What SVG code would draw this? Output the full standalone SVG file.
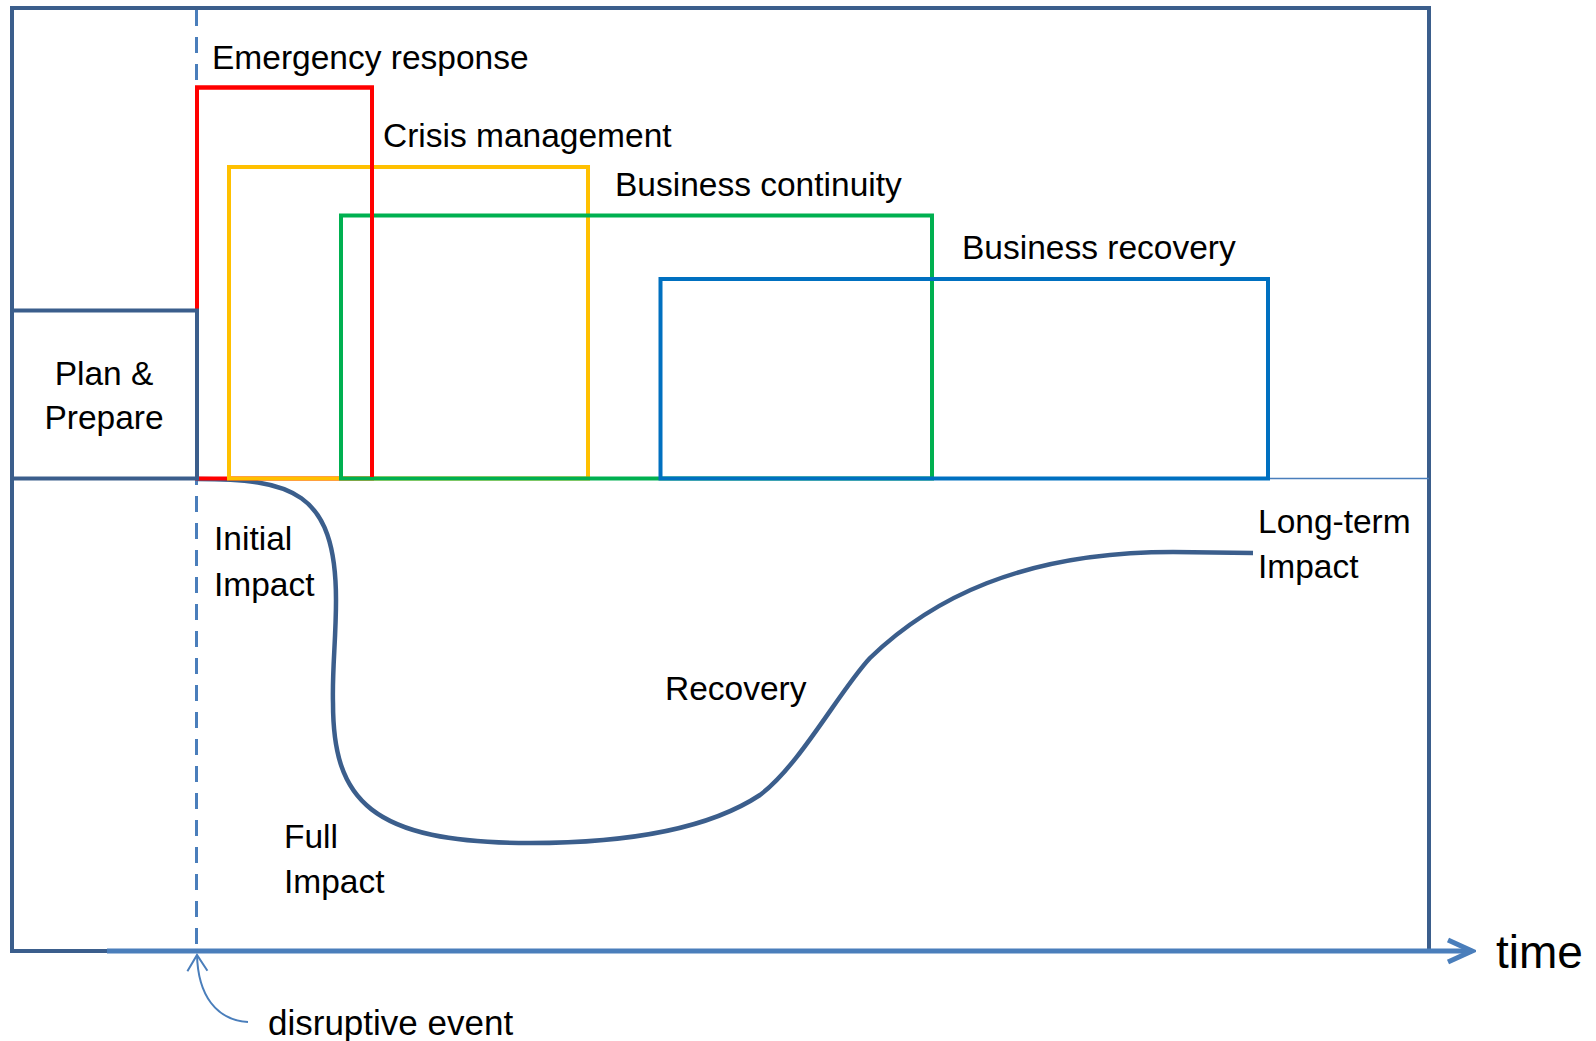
<svg xmlns="http://www.w3.org/2000/svg" width="1596" height="1041" viewBox="0 0 1596 1041">
  <defs>
    <style>
      text { font-family: "Liberation Sans", Arial, sans-serif; font-size: 33.5px; fill: #000; }
      .frame { fill: none; stroke: #3B5E8C; stroke-width: 4; }
      .box { fill: none; stroke-width: 4; stroke-linejoin: miter; }
      .red { stroke: #FF0000; }
      .yellow { stroke: #FFC000; }
      .green { stroke: #00B050; }
      .blue { stroke: #0070C0; }
      .axis { fill: none; stroke: #4A7EBB; stroke-width: 5; }
      .dash { fill: none; stroke: #4A7EBB; stroke-width: 3; stroke-dasharray: 16 11; }
      .curve { fill: none; stroke: #3B5E8C; stroke-width: 4.5; stroke-linecap: butt; }
      .thin { fill: none; stroke: #4A7EBB; stroke-width: 1.5; }
      .pointer { fill: none; stroke: #4A7EBB; stroke-width: 2; }
    </style>
    <marker id="chev" viewBox="0 0 30 30" refX="26" refY="15" markerWidth="30" markerHeight="30" markerUnits="userSpaceOnUse" orient="auto">
      <polyline points="2,4 26,15 2,26" fill="none" stroke="#4A7EBB" stroke-width="5"/>
    </marker>
    <marker id="chevSmall" viewBox="0 0 24 24" refX="20" refY="12" markerWidth="24" markerHeight="24" markerUnits="userSpaceOnUse" orient="auto">
      <polyline points="4,2 20,12 4,22" fill="none" stroke="#4A7EBB" stroke-width="2"/>
    </marker>
  </defs>
  <rect width="1596" height="1041" fill="#ffffff"/>

  <g id="frame">
    <rect class="frame" x="12" y="8" width="1417" height="943"/>
  </g>

  <g id="connectors">
    <line class="thin" x1="1268" y1="478.5" x2="1429" y2="478.5"/>
    <line class="dash" x1="196.5" y1="10" x2="196.5" y2="949"/>
    <path class="curve" d="M197 479 C290 479, 336 490, 336 600 C336 640, 332 670, 333 703 C333 800, 370 843, 530 843 C630 843, 710 828, 760 795 C800 765, 840 690, 870 658 C930 600, 1020 552, 1173 552 L1253 553"/>
    <line class="axis" x1="107" y1="951" x2="1472" y2="951" marker-end="url(#chev)"/>
    <path class="pointer" d="M248 1022 C216 1020, 198 995, 197 955" marker-end="url(#chevSmall)"/>
  </g>

  <g id="emergency-response">
    <rect class="box red" x="197" y="87.5" width="175" height="391"/>
    <text x="212" y="69">Emergency response</text>
  </g>

  <g id="crisis-management">
    <rect class="box yellow" x="229" y="167" width="359" height="311.5"/>
    <text x="383" y="146.5">Crisis management</text>
  </g>

  <g id="business-continuity">
    <rect class="box green" x="341" y="215.5" width="591" height="263"/>
    <text x="615" y="196">Business continuity</text>
  </g>

  <g id="business-recovery">
    <rect class="box blue" x="660.5" y="279" width="607.5" height="199.5"/>
    <text x="962" y="259">Business recovery</text>
  </g>

  <g id="red-overlay">
    <path class="box red" d="M197 478.5 V87.5 H372 V477"/>
  </g>

  <g id="plan-prepare">
    <rect class="frame" x="12" y="310.5" width="185" height="168"/>
    <text x="104" y="385" text-anchor="middle">Plan &amp;</text>
    <text x="104" y="429" text-anchor="middle">Prepare</text>
  </g>

  <g id="labels">
    <text x="214" y="550">Initial</text>
    <text x="214" y="596">Impact</text>
    <text x="284" y="848">Full</text>
    <text x="284" y="893">Impact</text>
    <text x="665" y="700">Recovery</text>
    <text x="1258" y="533">Long-term</text>
    <text x="1258" y="578">Impact</text>
    <text x="1496" y="968" style="font-size:46px">time</text>
    <text x="268" y="1035" style="font-size:35px">disruptive event</text>
  </g>
</svg>
